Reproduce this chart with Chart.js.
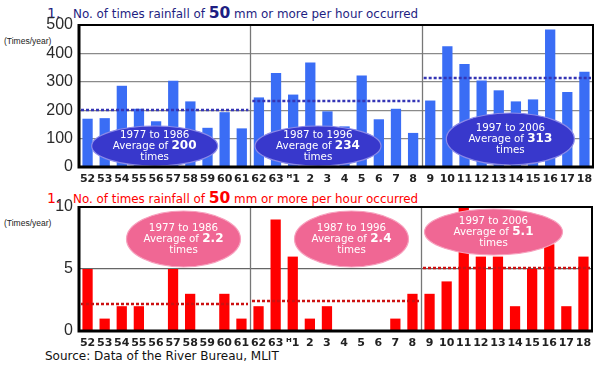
<!DOCTYPE html>
<html>
<head>
<meta charset="utf-8">
<script src="https://cdn.jsdelivr.net/npm/chart.js@4.4.1/dist/chart.umd.min.js"></script>
<style>
  html, body { margin:0; padding:0; background:#fff; }
  body { width:600px; height:373px; position:relative; overflow:hidden; font-family:"DejaVu Sans", Verdana, sans-serif; }
  .num { position:absolute; left:47px; font-size:14px; white-space:nowrap; line-height:18px; }
  .title { position:absolute; left:73px; font-size:11.9px; white-space:nowrap; line-height:18px; }
  .title b { font-size:15.5px; }
  .unit { position:absolute; left:4px; font-family:"Liberation Sans", Arial, sans-serif; font-size:8.5px; color:#222; }
  .source { position:absolute; left:45px; top:349px; font-size:12px; color:#111; }
  #w1 { position:absolute; left:0; top:0; width:600px; height:190px; }
  #w2 { position:absolute; left:0; top:190px; width:600px; height:160px; }
</style>
</head>
<body>
<div class="num" style="top:4px;color:#1e1e82;">1.</div>
<div class="title" style="top:4px;color:#1e1e82;">No. of times rainfall of <b>50</b> mm or more per hour occurred</div>
<div class="unit" style="top:36px;">(Times/year)</div>
<div class="num" style="top:189px;color:#ff0000;">1.</div>
<div class="title" style="top:189px;color:#ff0000;">No. of times rainfall of <b>50</b> mm or more per hour occurred</div>
<div class="unit" style="top:218px;">(Times/year)</div>
<div class="source">Source: Data of the River Bureau, MLIT</div>
<div id="w1"><canvas id="c1" width="600" height="190"></canvas></div>
<div id="w2"><canvas id="c2" width="600" height="160"></canvas></div>
<script>
// ---- data ----
const yearLabels = ['52','53','54','55','56','57','58','59','60','61',
                    '62','63','\u1D341','2','3','4','5','6','7','8',
                    '9','10','11','12','13','14','15','16','17','18'];
const times50mm = [170,172,286,205,161,304,231,138,193,136,
                   245,331,255,368,196,143,322,168,205,120,
                   234,425,363,305,270,231,238,484,264,335];
const times100mm = [5,1,2,2,0,5,3,0,3,1,
                    2,9,6,1,2,0,0,0,1,3,
                    3,4,10,6,6,2,5,7,2,6];
const periodNames = ['1977 to 1986','1987 to 1996','1997 to 2006'];
const avg50mm = [200,234,313];
const avg100mm = ['2.2','2.4','5.1'];
const topTicks = [0,100,200,300,400,500];
const bottomTicks = [0,5,10];

// ---- styles (geometry of annotation ovals, relative to period centre) ----
const ovalsTop = [
  {dx:-10, cy:146, rx:63, ry:20},
  {dx:-18, cy:146, rx:63, ry:20},
  {dx:3,  cy:139, rx:64, ry:26}
];
const ovalsBottom = [
  {dx:19, cy:49, rx:57, ry:28},
  {dx:16, cy:49, rx:57, ry:28},
  {dx:-13, cy:42, rx:69, ry:23}
];

function periodEdges(chart) {
  const xs = chart.scales.x;
  const n = yearLabels.length;
  const step = xs.getPixelForValue(1) - xs.getPixelForValue(0);
  const edges = [];
  for (let p = 0; p <= 3; p++) {
    const i = p * 10;
    edges.push(xs.getPixelForValue(Math.min(i, n - 1)) + (i >= n ? step / 2 : -step / 2));
  }
  return edges;
}

function makeOverlay(cfg) {
  return {
    id: 'overlay',
    beforeDatasetsDraw(chart) {
      const ctx = chart.ctx, a = chart.chartArea;
      const e = periodEdges(chart);
      ctx.save();
      ctx.strokeStyle = '#777';
      ctx.lineWidth = 1.3;
      for (const x of [e[1], e[2]]) {
        ctx.beginPath(); ctx.moveTo(Math.round(x)+0.5, a.top); ctx.lineTo(Math.round(x)+0.5, a.bottom); ctx.stroke();
      }
      ctx.restore();
    },
    afterDatasetsDraw(chart) {
      const ctx = chart.ctx, a = chart.chartArea, ys = chart.scales.y;
      const e = periodEdges(chart);
      ctx.save();
      // average lines
      ctx.strokeStyle = cfg.avgColor;
      ctx.lineWidth = 2.6;
      ctx.setLineDash([3, 2]);
      for (let p = 0; p < 3; p++) {
        const y = Math.round(ys.getPixelForValue(parseFloat(cfg.avgs[p])));
        ctx.beginPath(); ctx.moveTo(e[p] + 2, y); ctx.lineTo(e[p+1] - 2, y); ctx.stroke();
      }
      ctx.setLineDash([]);
      // ovals
      for (let p = 0; p < 3; p++) {
        const o = cfg.ovals[p];
        const cx = (e[p] + e[p+1]) / 2 + o.dx;
        const cy = o.cy;
        ctx.beginPath();
        ctx.ellipse(cx, cy, o.rx, o.ry, 0, 0, Math.PI * 2);
        ctx.fillStyle = cfg.ovalFill; ctx.fill();
        ctx.lineWidth = 1.2; ctx.strokeStyle = cfg.ovalStroke; ctx.stroke();
        ctx.fillStyle = '#fff';
        ctx.textAlign = 'center'; ctx.textBaseline = 'middle';
        ctx.font = '10.3px "DejaVu Sans", Verdana, sans-serif';
        ctx.fillText(periodNames[p], cx, cy - 11);
        const t1 = 'Average of ', t2 = String(cfg.avgs[p]);
        const w1 = ctx.measureText(t1).width;
        ctx.font = 'bold 12px "DejaVu Sans", Verdana, sans-serif';
        const w2 = ctx.measureText(t2).width;
        const x0 = cx - (w1 + w2) / 2;
        ctx.textAlign = 'left';
        ctx.font = '10.3px "DejaVu Sans", Verdana, sans-serif';
        ctx.fillText(t1, x0, cy);
        ctx.font = 'bold 12px "DejaVu Sans", Verdana, sans-serif';
        ctx.fillText(t2, x0 + w1, cy);
        ctx.textAlign = 'center';
        ctx.font = '10.3px "DejaVu Sans", Verdana, sans-serif';
        ctx.fillText('times', cx, cy + 11);
      }
      // frame
      ctx.strokeStyle = '#000';
      ctx.lineWidth = 2;
      ctx.strokeRect(a.left, a.top, a.right - a.left, a.bottom - a.top);
      ctx.lineWidth = 3;
      ctx.beginPath();
      ctx.moveTo(a.left, a.top - 1); ctx.lineTo(a.left, a.bottom); ctx.lineTo(a.right + 1, a.bottom);
      ctx.stroke();
      ctx.restore();
    }
  };
}

function makeChart(id, values, color, ticks, max, step, gridFn, pad, xH, overlay) {
  return new Chart(document.getElementById(id), {
    type: 'bar',
    data: { labels: yearLabels, datasets: [{ data: values, backgroundColor: color, barPercentage: 0.6, categoryPercentage: 1.0 }] },
    options: {
      responsive: false, animation: false, devicePixelRatio: 1,
      layout: { padding: pad },
      plugins: { legend: { display: false }, tooltip: { enabled: false } },
      scales: {
        x: {
          grid: { display: false, drawTicks: false }, border: { display: false },
          ticks: { color: '#222', font: { family: 'DejaVu Sans', size: 11, weight: 'bold' }, maxRotation: 0, autoSkip: false, padding: 6 },
          afterFit(s) { s.height = xH; }
        },
        y: {
          min: 0, max: max,
          afterBuildTicks(s) { s.ticks = ticks.map(v => ({ value: v })); },
          ticks: { stepSize: step, color: '#2a2a2a', font: { family: 'Liberation Sans', size: 16 }, padding: 6 },
          grid: { color: gridFn, lineWidth: 1.3, drawTicks: false },
          border: { display: false },
          afterFit(s) { s.width = 79; }
        }
      }
    },
    plugins: [overlay]
  });
}

makeChart('c1', times50mm, '#3a6df5', topTicks, 500, 100,
  ctx => '#8a8a8a', { top: 25, right: 7, left: 0, bottom: 0 }, 23,
  makeOverlay({ avgs: avg50mm, avgColor: '#3535b5', ovals: ovalsTop, ovalFill: '#3838cc', ovalStroke: '#8a8ae8' }));

makeChart('c2', times100mm, '#ff0000', bottomTicks, 10, 5,
  ctx => (ctx.tick && ctx.tick.value === 5) ? '#666' : 'rgba(0,0,0,0)', { top: 17, right: 8, left: 0, bottom: 0 }, 19,
  makeOverlay({ avgs: avg100mm, avgColor: '#cc1111', ovals: ovalsBottom, ovalFill: '#f06794', ovalStroke: '#f7a0bd' }));
</script>
</body>
</html>
